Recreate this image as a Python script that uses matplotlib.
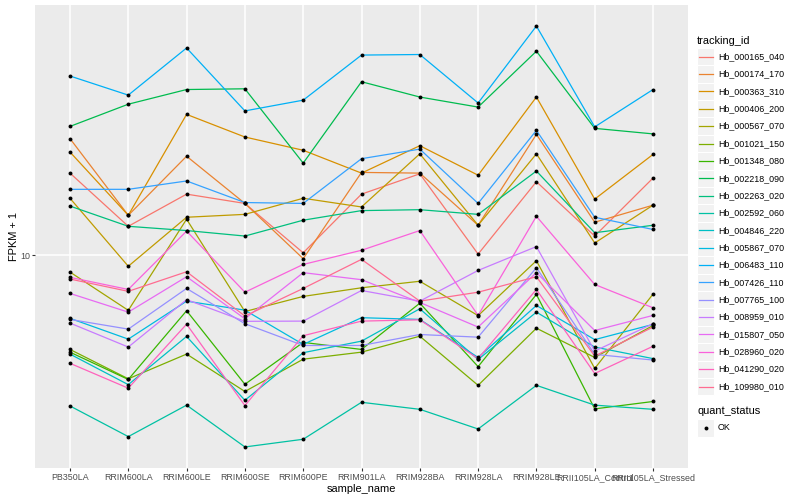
import numpy as np
import matplotlib
matplotlib.use('Agg')
import matplotlib.pyplot as plt
from matplotlib.patches import Rectangle
from matplotlib.ticker import NullLocator

plt.rcParams['font.family'] = ['Liberation Sans', 'DejaVu Sans']

samples = ['PB350LA', 'RRIM600LA', 'RRIM600LE', 'RRIM600SE', 'RRIM600PE', 'RRIM901LA',
           'RRIM928BA', 'RRIM928LA', 'RRIM928LE', 'RRII105LA_Control', 'RRII105LA_Stressed']

tracking_ids = ['Hb_000165_040', 'Hb_000174_170', 'Hb_000363_310', 'Hb_000406_200',
                'Hb_000567_070', 'Hb_001021_150', 'Hb_001348_080', 'Hb_002218_090',
                'Hb_002263_020', 'Hb_002592_060', 'Hb_004846_220', 'Hb_005867_070',
                'Hb_006483_110', 'Hb_007426_110', 'Hb_007765_100', 'Hb_008959_010',
                'Hb_015807_050', 'Hb_028960_020', 'Hb_041290_020', 'Hb_109980_010']

# FPKM + 1, one value per sample
hb_000165_040 = [18.8, 12.5, 16.0, 14.9, 10.2, 16.0, 18.7, 10.1, 17.6, 11.6, 18.1]
hb_000174_170 = [24.5, 13.6, 21.4, 14.9, 9.75, 18.9, 18.8, 12.6, 25.3, 12.9, 14.7]
hb_000363_310 = [22.1, 13.6, 29.5, 24.8, 22.4, 18.8, 23.2, 18.5, 33.7, 15.4, 21.7]
hb_000406_200 = [15.5, 9.2, 13.4, 13.7, 15.5, 14.5, 21.8, 12.6, 21.8, 11.0, 14.7]
hb_000567_070 = [8.8, 6.56, 13.2, 6.5, 7.3, 7.8, 8.2, 6.3, 9.6, 4.2, 7.43]
hb_001021_150 = [4.86, 3.88, 4.69, 3.52, 4.51, 4.76, 5.38, 3.69, 5.72, 4.57, 5.84]
hb_001348_080 = [4.76, 3.86, 6.54, 3.72, 5.13, 4.86, 6.93, 4.26, 7.41, 3.08, 3.26]
hb_002218_090 = [26.9, 31.9, 35.7, 35.9, 20.3, 37.9, 33.7, 31.2, 47.9, 26.5, 25.4]
hb_002263_020 = [14.6, 12.5, 12.1, 11.6, 13.1, 14.1, 14.2, 13.7, 19.1, 11.9, 12.6]
hb_002592_060 = [3.15, 2.49, 3.17, 2.30, 2.44, 3.24, 3.07, 2.64, 3.69, 3.17, 3.07]
hb_004846_220 = [4.69, 3.71, 5.37, 3.29, 4.74, 5.18, 6.64, 4.50, 6.47, 4.95, 4.53]
hb_005867_070 = [6.17, 5.26, 7.04, 6.57, 5.05, 6.20, 6.12, 4.57, 6.81, 5.24, 5.89]
hb_006483_110 = [39.6, 34.2, 49.1, 30.3, 32.9, 46.5, 46.7, 32.2, 58.1, 26.8, 35.7]
hb_007426_110 = [16.6, 16.6, 17.7, 15.0, 14.9, 21.0, 22.6, 14.9, 26.1, 13.4, 12.2]
hb_007765_100 = [6.12, 5.68, 7.76, 5.92, 5.01, 5.01, 5.45, 5.34, 9.10, 4.68, 4.48]
hb_008959_010 = [5.95, 4.95, 7.12, 6.03, 6.04, 7.64, 7.04, 8.91, 10.7, 4.80, 5.92]
hb_015807_050 = [7.47, 6.47, 8.49, 6.15, 8.76, 8.30, 6.97, 5.77, 8.76, 5.62, 6.31]
hb_028960_020 = [8.45, 7.70, 12.05, 7.54, 9.33, 10.4, 12.1, 6.31, 13.5, 8.00, 6.69]
hb_041290_020 = [4.37, 3.61, 5.90, 3.16, 5.40, 6.04, 6.10, 4.53, 7.70, 4.04, 4.98]
hb_109980_010 = [8.34, 7.59, 8.82, 6.28, 7.76, 9.70, 7.04, 7.54, 8.49, 4.62, 5.77]

series = [hb_000165_040, hb_000174_170, hb_000363_310, hb_000406_200, hb_000567_070,
          hb_001021_150, hb_001348_080, hb_002218_090, hb_002263_020, hb_002592_060,
          hb_004846_220, hb_005867_070, hb_006483_110, hb_007426_110, hb_007765_100,
          hb_008959_010, hb_015807_050, hb_028960_020, hb_041290_020, hb_109980_010]

# ggplot hue palette, 20 levels
colors = ['#F8766D', '#EA8331', '#D89000', '#C09B00', '#A3A500', '#7CAE00', '#39B600',
          '#00BB4E', '#00BF7D', '#00C1A3', '#00BFC4', '#00BAE0', '#00B0F6', '#35A2FF',
          '#9590FF', '#C77CFF', '#E76BF3', '#FA62DB', '#FF62BC', '#FF6C91']

W, H = 800, 500
fig = plt.figure(figsize=(8, 5), dpi=100)
ax = fig.add_axes([35 / W, 1 - 468 / H, (688 - 35) / W, (468 - 5) / H])
ax.set_facecolor('#EBEBEB')

x = np.arange(len(samples))
for vals, col in zip(series, colors):
    ax.plot(x, vals, color=col, lw=0.9, zorder=2)
for vals in series:
    ax.scatter(x, vals, s=8, color='black', marker='o', linewidths=0, zorder=3)

ax.set_yscale('log')
allv = np.log10(np.concatenate([np.array(s) for s in series]))
lo, hi = allv.min(), allv.max()
pad = 0.05 * (hi - lo)
ax.set_ylim(10 ** (lo - pad), 10 ** (hi + pad))
ax.set_xlim(-0.6, len(samples) - 0.4)

ax.set_yticks([10])
ax.set_yticklabels(['10'])
ax.yaxis.set_minor_locator(NullLocator())
ax.set_xticks(x)
ax.set_xticklabels(samples)
ax.grid(True, color='white', lw=1.1, zorder=1)
ax.set_axisbelow(True)
for s in ax.spines.values():
    s.set_visible(False)
ax.tick_params(axis='both', length=2, width=0.8, color='#333333', labelcolor='#4D4D4D',
               labelsize=6.4, pad=1.5)

fig.text(14 / W, 1 - 236.5 / H, 'FPKM + 1', rotation=90, ha='center', va='center',
         fontsize=7.9)
fig.text(361.5 / W, 1 - 489 / H, 'sample_name', ha='center', va='center', fontsize=7.9)

# legend drawn in pixel coordinates
leg = fig.add_axes([0, 0, 1, 1], zorder=5)
leg.set_xlim(0, W)
leg.set_ylim(H, 0)
leg.axis('off')

leg.text(697, 40.5, 'tracking_id', fontsize=7.9, va='center', ha='left')
step = 17.36
for i, (name, col) in enumerate(zip(tracking_ids, colors)):
    yc = 56.7 + i * step
    leg.add_patch(Rectangle((697, yc - step / 2), 17, step, facecolor='#F2F2F2',
                            edgecolor='white', lw=0.8))
    leg.plot([698.5, 712.5], [yc, yc], color=col, lw=0.9)
    leg.text(718, yc, name, fontsize=6.4, va='center', ha='left')

leg.text(697, 411.5, 'quant_status', fontsize=7.9, va='center', ha='left')
leg.add_patch(Rectangle((697, 428 - step / 2), 17, step, facecolor='#F2F2F2',
                        edgecolor='white', lw=0.8))
leg.scatter([705.5], [428], s=8, color='black', marker='o', linewidths=0)
leg.text(718, 428, 'OK', fontsize=6.4, va='center', ha='left')

fig.savefig('out.png', dpi=100)
